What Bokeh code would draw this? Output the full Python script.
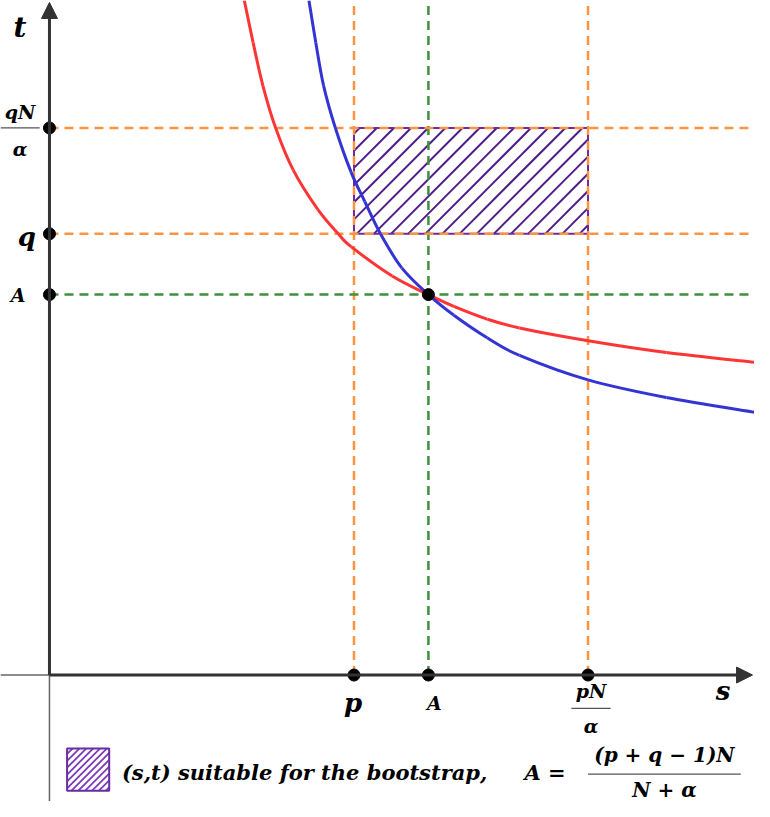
from bokeh.plotting import figure
from bokeh.models import Range1d, Arrow, NormalHead
from bokeh.core.properties import value
from bokeh.embed import file_html
from bokeh.resources import INLINE

# ---- key values (units: 1 = 100 px of the reference) ----
s_marks = [3.11, 3.87, 5.50]          # p, A, pN/alpha on the s axis
t_marks = [5.58, 4.50, 3.88]          # qN/alpha, q, A on the t axis
P, A_S, PN = s_marks
QN, Q, A_T = t_marks

# red curve
red_s = [1.99, 2.08, 2.18, 2.31, 2.49, 2.74, 2.95, 3.08, 3.50, 3.87, 4.13, 4.47, 4.80, 5.50, 6.30, 7.20]
red_t = [6.88, 6.45, 6.01, 5.58, 5.15, 4.75, 4.50, 4.37, 4.07, 3.88, 3.76, 3.63, 3.54, 3.41, 3.29, 3.19]
# blue curve
blue_s = [2.65, 2.72, 2.80, 2.92, 3.08, 3.22, 3.38, 3.60, 3.87, 4.13, 4.47, 4.80, 5.50, 6.30, 7.20]
blue_t = [6.88, 6.45, 6.01, 5.58, 5.13, 4.83, 4.50, 4.15, 3.88, 3.67, 3.44, 3.26, 3.01, 2.83, 2.68]

s_labels = ["p", "A", "s"]
t_labels = ["t", "q", "A"]
frac_num = ["qN", "pN"]
frac_den = ["α", "α"]
legend_text = "(s,t) suitable for the bootstrap,"
formula_lhs = "A ="
formula_num = "(p + q − 1)N"
formula_den = "N + α"

XMIN, XMAX = -0.50, 7.20
YMIN, YMAX = -1.29, 6.88

p = figure(width=754, height=801, x_range=Range1d(XMIN, XMAX), y_range=Range1d(YMIN, YMAX),
           output_backend="svg", toolbar_location=None, min_border=0)
p.axis.visible = False
p.grid.visible = False
p.outline_line_color = None
p.background_fill_color = "white"
p.border_fill_color = "white"

FONT = value("DejaVu Serif")
ORANGE = "#ff9340"
GREEN = "#3f8f3f"
PURPLE = "#6a2ca0"
HATCH = "#4f1d88"
DARK = "#333333"


def smooth(xs, ys):
    """Catmull-Rom control points so the read points are joined smoothly."""
    n = len(xs)
    x0, y0, x1, y1, cx0, cy0, cx1, cy1 = [], [], [], [], [], [], [], []
    for i in range(n - 1):
        im, ip2 = max(i - 1, 0), min(i + 2, n - 1)
        x0.append(xs[i]); y0.append(ys[i]); x1.append(xs[i + 1]); y1.append(ys[i + 1])
        cx0.append(xs[i] + (xs[i + 1] - xs[im]) / 6); cy0.append(ys[i] + (ys[i + 1] - ys[im]) / 6)
        cx1.append(xs[i + 1] - (xs[ip2] - xs[i]) / 6); cy1.append(ys[i + 1] - (ys[ip2] - ys[i]) / 6)
    return dict(x0=x0, y0=y0, x1=x1, y1=y1, cx0=cx0, cy0=cy0, cx1=cx1, cy1=cy1)


def hatch(x0, x1, y0, y1, step, color, width):
    """45-degree '/' hatch lines clipped to the rectangle."""
    xs0, ys0, xs1, ys1 = [], [], [], []
    c = y0 - x1 + step / 2
    while c < y1 - x0:
        lo, hi = max(x0, y0 - c), min(x1, y1 - c)
        if hi > lo:
            xs0.append(lo); ys0.append(lo + c); xs1.append(hi); ys1.append(hi + c)
        c += step
    p.segment(x0=xs0, y0=ys0, x1=xs1, y1=ys1, line_color=color, line_width=width)

# hatched region
hatch(P, PN, Q, QN, 0.175, HATCH, 2)
p.quad(left=[P], right=[PN], bottom=[Q], top=[QN], fill_color=None,
       line_color=PURPLE, line_width=2)

# dashed guide lines
for xv, col in [(P, ORANGE), (PN, ORANGE), (A_S, GREEN)]:
    p.segment(x0=[xv], y0=[0], x1=[xv], y1=[YMAX], line_color=col, line_width=2.5, line_dash="9 6")
for yv, col in [(QN, ORANGE), (Q, ORANGE), (A_T, GREEN)]:
    p.segment(x0=[0], y0=[yv], x1=[XMAX], y1=[yv], line_color=col, line_width=2.5, line_dash="9 6")

# curves
p.bezier(**smooth(red_s, red_t), line_color="#ff3535", line_width=3)
p.bezier(**smooth(blue_s, blue_t), line_color="#3434d4", line_width=3)

# axes
p.segment(x0=[XMIN], y0=[0], x1=[0], y1=[0], line_color="#666666", line_width=1.5)
p.segment(x0=[0], y0=[YMIN], x1=[0], y1=[0], line_color="#666666", line_width=1.5)
p.add_layout(Arrow(end=NormalHead(size=16, fill_color=DARK, line_color=DARK),
                   x_start=0, y_start=0, x_end=XMAX - 0.02, y_end=0,
                   line_color=DARK, line_width=3))
p.add_layout(Arrow(end=NormalHead(size=16, fill_color=DARK, line_color=DARK),
                   x_start=0, y_start=0, x_end=0, y_end=YMAX - 0.02,
                   line_color=DARK, line_width=3))

# points
p.scatter(x=s_marks, y=[0, 0, 0], size=12, color="black")
p.scatter(x=[0, 0, 0], y=t_marks, size=12, color="black")
p.scatter(x=[A_S], y=[A_T], size=12, color="black")


def txt(x, y, s, size, align="center", baseline="middle", style="bold italic"):
    p.text(x=[x], y=[y], text=[s], text_font=FONT, text_font_style=style,
           text_font_size=size, text_align=align, text_baseline=baseline, text_color="black")

# t-axis labels
txt(-0.30, 6.60, t_labels[0], "28px")
txt(-0.23, 4.47, t_labels[1], "26px")
txt(-0.32, 3.88, t_labels[2], "19px")
txt(-0.30, 5.74, frac_num[0], "19px")
p.segment(x0=[XMIN], y0=[QN], x1=[-0.10], y1=[QN], line_color="#555555", line_width=1.2)
txt(-0.30, 5.37, frac_den[0], "19px")

# s-axis labels
txt(3.10, -0.29, s_labels[0], "26px")
txt(3.93, -0.29, s_labels[1], "19px")
txt(6.88, -0.16, s_labels[2], "26px")
txt(5.53, -0.16, frac_num[1], "19px")
p.segment(x0=[5.33], y0=[-0.34], x1=[5.73], y1=[-0.34], line_color="#555555", line_width=1.2)
txt(5.53, -0.52, frac_den[1], "19px")

# legend
p.quad(left=[0.18], right=[0.61], bottom=[-1.18], top=[-0.75], fill_color="white", line_color=None)
hatch(0.18, 0.61, -1.18, -0.75, 0.07, "#7a3cb8", 1.8)
p.quad(left=[0.18], right=[0.61], bottom=[-1.18], top=[-0.75], fill_color=None,
       line_color=PURPLE, line_width=2)
txt(0.74, -0.99, legend_text, "21px", align="left")
txt(4.85, -0.99, formula_lhs, "21px", align="left")
txt(6.28, -0.82, formula_num, "20px")
p.segment(x0=[5.50], y0=[-1.01], x1=[7.06], y1=[-1.01], line_color="#555555", line_width=1.2)
txt(6.28, -1.17, formula_den, "20px")

open("out.html", "w").write(file_html(p, INLINE))
